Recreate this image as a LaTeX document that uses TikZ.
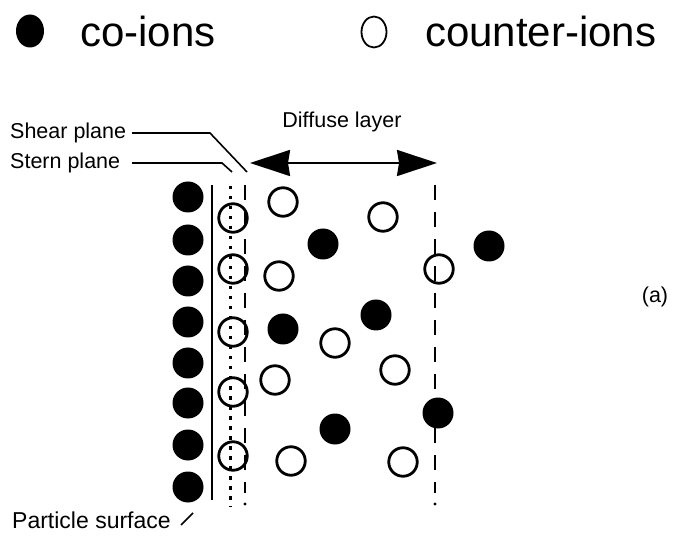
\documentclass[tikz,border=0pt]{standalone}
\usepackage{fontspec}
\setmainfont{Liberation Sans}
\usetikzlibrary{arrows.meta,shapes.geometric}
\begin{document}
\begin{tikzpicture}[x=1pt,y=-1pt,
  ion/.style={circle,inner sep=0pt,minimum size=31pt},
  coion/.style={ion,fill=black},
  cion/.style={ion,draw=black,line width=2.8pt,minimum size=28.5pt},
  lbl/.style={font=\fontsize{21.5}{26}\selectfont,inner sep=0pt},
  leg/.style={font=\fontsize{42}{48}\selectfont,inner sep=0pt,anchor=west},
  pointer/.style={line width=1.6pt},
  surface/.style={line width=2.2pt},
  sternline/.style={line width=3pt,dash pattern=on 3.5pt off 6.5pt},
  shearline/.style={line width=2.8pt,dash pattern=on 15pt off 12pt},
  dblarrow/.style={line width=2pt,{Stealth[length=40pt,width=26pt,inset=2pt]}-{Stealth[length=40pt,width=26pt,inset=2pt]}}
]
\useasboundingbox (0,0) rectangle (675,537);
% legend
\node[ellipse,fill=black,inner sep=0pt,minimum width=28pt,minimum height=33pt] (legco) at (30,31) {};
\node[leg] (tco) at (80,31) {co-ions};
\node[ellipse,draw=black,line width=1.8pt,inner sep=0pt,minimum width=25pt,minimum height=31pt] (legcounter) at (374,32) {};
\node[leg] (tcounter) at (425,31) {counter-ions};
% labels
\node[lbl,anchor=west] (shear) at (10,133) {Shear plane};
\node[lbl,anchor=west] (stern) at (10,163) {Stern plane};
\node[lbl] (diff) at (342,122) {Diffuse layer};
\node[lbl,anchor=west,font=\fontsize{23}{27}\selectfont] (part) at (12,520) {Particle surface};
\node[lbl] (lab) at (655,297) {(a)};
% pointer lines
\coordinate (sh0) at (132,133);
\coordinate (sh1) at (210,133);
\coordinate (sh2) at (247,172);
\coordinate (st0) at (132,163);
\coordinate (st1) at (222,163);
\coordinate (st2) at (232,172);
\draw[pointer] (sh0) -- (sh1) -- (sh2);
\draw[pointer] (st0) -- (st1) -- (st2);
\coordinate (ps1) at (181,525);
\coordinate (ps2) at (193,513);
\draw[pointer] (ps1) -- (ps2);
% arrow
\coordinate (al) at (250,163);
\coordinate (ar) at (437,163);
\draw[dblarrow] (al) -- (ar);
% planes
\coordinate (sa) at (212,185);
\coordinate (sb) at (212,500);
\draw[surface] (sa) -- (sb);
\coordinate (da) at (230,186);
\coordinate (db) at (230,507);
\draw[sternline] (da) -- (db);
\coordinate (ea) at (245,185);
\coordinate (eb) at (245,493);
\draw[shearline] (ea) -- (eb);
\coordinate (ec) at (245,504);
\fill (ec) circle (1.6pt);
\coordinate (fa) at (435,185);
\coordinate (fb) at (435,493);
\draw[shearline] (fa) -- (fb);
\coordinate (fc) at (435,504);
\fill (fc) circle (1.6pt);
% co-ions at surface
\foreach \y [count=\i] in {197,240,281,322,363,403,445,487}
  \node[coion] (w\i) at (188,\y) {};
% counter-ions in Stern layer
\foreach \y [count=\i] in {218,269,332,392,456}
  \node[cion] (s\i) at (233,\y) {};
% diffuse layer ions
\node[cion] (c1) at (283,202) {};
\node[cion] (c2) at (383,217) {};
\node[cion] (c3) at (279,276) {};
\node[cion] (c4) at (439,269) {};
\node[cion] (c5) at (335,343) {};
\node[cion] (c6) at (395,370) {};
\node[cion] (c7) at (275,380) {};
\node[cion] (c8) at (291,461) {};
\node[cion] (c9) at (403,462) {};
\node[coion] (f1) at (323,244) {};
\node[coion] (f2) at (489,246) {};
\node[coion] (f3) at (283,329) {};
\node[coion] (f4) at (376,315) {};
\node[coion] (f5) at (438,413) {};
\node[coion] (f6) at (335,429) {};
\end{tikzpicture}
\end{document}
